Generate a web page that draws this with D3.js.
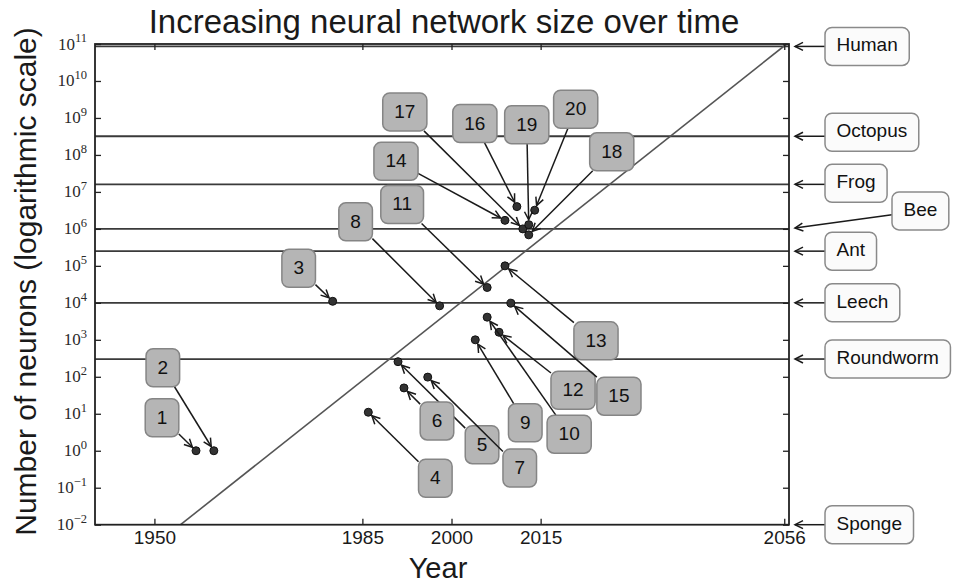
<!DOCTYPE html>
<html><head><meta charset="utf-8">
<script src="https://cdn.jsdelivr.net/npm/d3@7"></script>
<style>body{margin:0;background:#fff}svg{display:block}</style>
</head><body>
<script>
// ---------------- data ----------------
const xTickYears = [1950, 1985, 2000, 2015, 2056];
const yTickExponents = [-2, -1, 0, 1, 2, 3, 4, 5, 6, 7, 8, 9, 10, 11];

const netIds = [1, 2, 3, 4, 5, 6, 7, 8, 9, 10, 11, 12, 13, 14, 15, 16, 17, 18, 19, 20];
const netYears = [1957, 1960, 1980, 1986, 1991, 1992, 1996, 1998, 2004, 2006,
                  2006, 2008, 2009, 2009, 2010, 2011, 2012, 2013, 2013, 2014];
const netNeurons = [1, 1, 1.1e4, 11, 256, 50, 98, 8.3e3, 1.0e3, 4.1e3,
                    2.6e4, 1.6e3, 1.0e5, 1.7e6, 9.8e3, 4.0e6, 1.0e6, 6.9e5, 1.3e6, 3.2e6];

const animalNames = ["Human", "Octopus", "Frog", "Bee", "Ant", "Leech", "Roundworm", "Sponge"];
const animalNeurons = [8.6e10, 3.2e8, 1.6e7, 1e6, 2.5e5, 1e4, 302, 1e-2];

const trendYears = [1954.4, 2056.4];
const trendNeurons = [1e-2, 1e11];

// ---------------- layout (label offsets in px, like "offset points") ----------------
const netLabelOffsets = [[-34,-33],[-51,-83],[-34,-33],[67,66],[84,83],[33,33],[92,91],[-84,-84],
  [50,83],[82,117],[-85,-83],[74,58],[91,75],[-109,-59],[108,93],[-42,-83],[-118,-117],[83,-83],[-2,-100],[41,-101]];
const animalLabelOffsets = [[36,0],[36,-4],[36,-1],[103,-18],[36,0],[36,0],[36,0],[36,0]];

// ---------------- setup ----------------
const W = 964, H = 588;
const plot = {left: 95, right: 789, top: 44, bottom: 524.7};
const svg = d3.select("body").append("svg").attr("width", W).attr("height", H)
  .style("font-family", "'Liberation Sans', Arial, Helvetica, sans-serif");

const x = d3.scaleLinear().domain([1940, 2056.8]).range([plot.left, plot.right]);
const y = d3.scaleLog().domain([1e-2, 1e11]).range([plot.bottom, plot.top]);

const ink = "#1a1a1a";

// horizontal animal lines
const animals = animalNames.map((n, i) => ({name: n, v: animalNeurons[i], off: animalLabelOffsets[i]}));
svg.append("g").selectAll("line").data(animals.filter(a => a.v > 1e-2)).join("line")
  .attr("x1", plot.left).attr("x2", plot.right)
  .attr("y1", d => y(d.v)).attr("y2", d => y(d.v))
  .attr("stroke", "#3a3a3a").attr("stroke-width", 1.8);

// trend line
const trend = trendYears.map((yr, i) => [yr, trendNeurons[i]]);
svg.append("path").datum(trend)
  .attr("d", d3.line().x(d => x(d[0])).y(d => y(d[1])))
  .attr("fill", "none").attr("stroke", "#555").attr("stroke-width", 1.6);

// frame
svg.append("rect").attr("x", plot.left).attr("y", plot.top)
  .attr("width", plot.right - plot.left).attr("height", plot.bottom - plot.top)
  .attr("fill", "none").attr("stroke", "#222").attr("stroke-width", 1.8);

// axes ticks
const yTickVals = yTickExponents.map(e => Math.pow(10, e));
const gB = svg.append("g").attr("transform", `translate(0,${plot.bottom})`)
  .call(d3.axisBottom(x).tickValues(xTickYears).tickSize(-6).tickPadding(6).tickFormat(d3.format("d")));
gB.selectAll("text").attr("font-size", 19).attr("fill", ink).attr("font-family", "'Liberation Sans', Arial, sans-serif");
svg.append("g").attr("transform", `translate(0,${plot.top})`)
  .call(d3.axisTop(x).tickValues(xTickYears).tickSize(-6).tickFormat(""));
const gL = svg.append("g").attr("transform", `translate(${plot.left},0)`)
  .call(d3.axisLeft(y).tickValues(yTickVals).tickSize(-6).tickFormat(""));
svg.append("g").attr("transform", `translate(${plot.right},0)`)
  .call(d3.axisRight(y).tickValues(yTickVals).tickSize(-6).tickFormat(""));
svg.selectAll(".domain").remove();
svg.selectAll(".tick line").attr("stroke", "#222").attr("stroke-width", 1.3);

gL.selectAll(".tick").each(function(d) {
  const e = Math.round(Math.log10(d));
  const t = d3.select(this).append("text")
    .attr("x", -8).attr("y", 5).attr("text-anchor", "end")
    .attr("fill", "#2a2a2a").attr("font-family", "'Liberation Serif', 'DejaVu Serif', serif")
    .attr("font-size", 17);
  t.append("tspan").text("10");
  t.append("tspan").attr("dy", -7.5).attr("font-size", 12.5).text(String(e).replace("-", "\u2212"));
});

// titles
svg.append("text").attr("x", 444).attr("y", 33).attr("text-anchor", "middle")
  .attr("font-size", 33).attr("fill", ink).text("Increasing neural network size over time");
svg.append("text").attr("transform", "translate(36,281.5) rotate(-90)").attr("text-anchor", "middle")
  .attr("font-size", 30).attr("fill", ink).text("Number of neurons (logarithmic scale)");
svg.append("text").attr("x", 438).attr("y", 578).attr("text-anchor", "middle")
  .attr("font-size", 29).attr("fill", ink).text("Year");

// helpers
function measure(txt, size) {
  const t = svg.append("text").attr("font-size", size).text(txt);
  const w = t.node().getComputedTextLength();
  t.remove();
  return w;
}
function drawArrow(g, sx, sy, tx, ty, shrink) {
  const dx = tx - sx, dy = ty - sy, L = Math.hypot(dx, dy);
  const ux = dx / L, uy = dy / L;
  const ex = tx - ux * shrink, ey = ty - uy * shrink;
  g.append("line").attr("x1", sx).attr("y1", sy).attr("x2", ex).attr("y2", ey)
    .attr("stroke", ink).attr("stroke-width", 1.5);
  const hl = 8, hw = 4;
  const bx = ex - ux * hl, by = ey - uy * hl;
  const nx = -uy, ny = ux;
  g.append("path")
    .attr("d", `M${bx + nx * hw},${by + ny * hw}L${ex},${ey}L${bx - nx * hw},${by - ny * hw}`)
    .attr("fill", "none").attr("stroke", ink).attr("stroke-width", 1.5);
}
function clipStart(cx, cy, hw, hh, tx, ty) {
  const dx = tx - cx, dy = ty - cy;
  const t = Math.min(dx !== 0 ? hw / Math.abs(dx) : Infinity, dy !== 0 ? hh / Math.abs(dy) : Infinity);
  return [cx + dx * t, cy + dy * t];
}

// points
const nets = netIds.map((id, i) => ({id, yr: netYears[i], v: netNeurons[i], off: netLabelOffsets[i]}));
svg.append("g").selectAll("circle").data(nets).join("circle")
  .attr("cx", d => x(d.yr)).attr("cy", d => y(d.v)).attr("r", 4)
  .attr("fill", "#333").attr("stroke", "#111").attr("stroke-width", 1);

// network annotations
const fs = 19, boxH = 38, padX = 11.5;
const gAnn = svg.append("g");
nets.forEach(d => {
  const px = x(d.yr), py = y(d.v);
  const cx = px + d.off[0], cy = py + d.off[1];
  const w = measure(String(d.id), fs) + 2 * padX;
  const [sx, sy] = clipStart(cx, cy, w / 2, boxH / 2, px, py);
  drawArrow(gAnn, sx, sy, px, py, 5);
  gAnn.append("rect").attr("x", cx - w / 2).attr("y", cy - boxH / 2).attr("width", w).attr("height", boxH)
    .attr("rx", 7).attr("fill", "#b5b5b5").attr("stroke", "#858585").attr("stroke-width", 1.5);
  gAnn.append("text").attr("x", cx).attr("y", cy + 6).attr("text-anchor", "middle")
    .attr("font-size", fs).attr("fill", "#111").text(d.id);
});

// animal annotations
animals.forEach(a => {
  const tx = plot.right, ty = y(a.v);
  const w = measure(a.name, fs) + 2 * padX;
  const left = tx + a.off[0];
  const cx = left + w / 2, cy = ty + a.off[1];
  let sx, sy;
  if (Math.abs(a.off[1]) > 6) { [sx, sy] = clipStart(cx, cy, w / 2, boxH / 2, tx, ty); }
  else { sx = left; sy = ty; }
  drawArrow(gAnn, sx, sy, tx, ty, 6);
  gAnn.append("rect").attr("x", left).attr("y", cy - boxH / 2).attr("width", w).attr("height", boxH)
    .attr("rx", 7).attr("fill", "#fbfbfb").attr("stroke", "#8a8a8a").attr("stroke-width", 1.5);
  gAnn.append("text").attr("x", left + padX).attr("y", cy + 5)
    .attr("font-size", fs).attr("fill", "#111").text(a.name);
});
</script>
</body></html>
